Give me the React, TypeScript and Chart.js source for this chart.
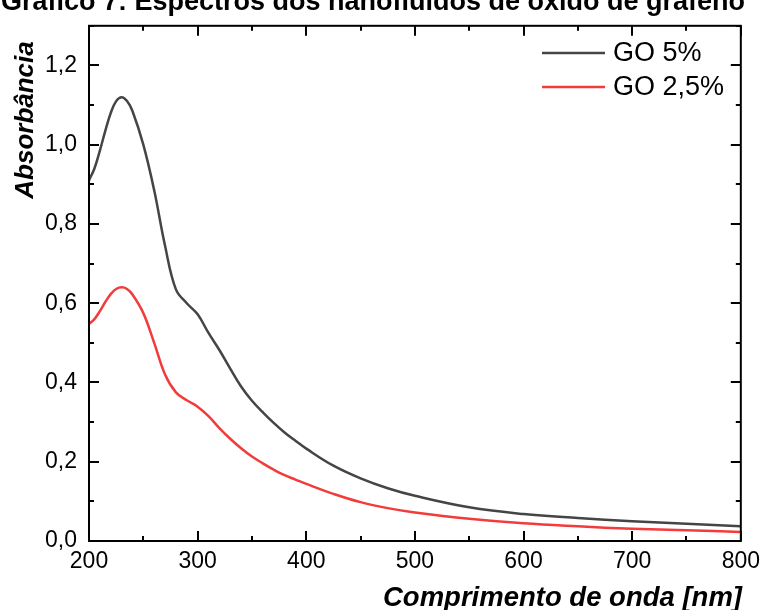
import React, { useEffect, useRef } from "react";
import { Chart, registerables } from "chart.js";

Chart.register(...registerables);

const wavelengths = [200, 205, 210, 215, 220, 225, 230, 235, 240, 250, 260, 270, 280, 290, 300, 310, 320, 330, 340, 350, 360, 370, 380, 390, 400, 425, 450, 475, 500, 550, 600, 650, 700, 750, 800];
const go5 = [0.91, 0.94, 0.985, 1.035, 1.08, 1.11, 1.12, 1.11, 1.085, 1.0, 0.885, 0.745, 0.635, 0.6, 0.572, 0.525, 0.482, 0.435, 0.39, 0.354, 0.325, 0.298, 0.274, 0.253, 0.233, 0.19, 0.158, 0.133, 0.114, 0.085, 0.068, 0.058, 0.05, 0.0435, 0.037];
const go25 = [0.548, 0.56, 0.58, 0.603, 0.623, 0.636, 0.64, 0.636, 0.622, 0.575, 0.5, 0.42, 0.375, 0.355, 0.339, 0.315, 0.285, 0.258, 0.234, 0.213, 0.196, 0.18, 0.166, 0.155, 0.144, 0.119, 0.098, 0.083, 0.072, 0.056, 0.0445, 0.037, 0.031, 0.027, 0.023];
const seriesLabels = ["GO 5%", "GO 2,5%"];
const seriesColors = ["#454545", "#f23c3c"];
const chartTitle = "Gráfico 7: Espectros dos nanofluidos de óxido de grafeno";
const xTitle = "Comprimento de onda [nm]";
const yTitle = "Absorbância";

const FONT = "Arial, 'Liberation Sans', sans-serif";

const framePlugin = {
  id: "frame",
  afterDraw(chart: any) {
    const ctx = chart.ctx;
    const { left, right, top, bottom } = chart.chartArea;
    const xs = chart.scales.x;
    const ys = chart.scales.y;
    ctx.save();
    ctx.strokeStyle = "#000";
    ctx.lineWidth = 2;
    ctx.strokeRect(left, top, right - left, bottom - top);
    ctx.lineWidth = 2;
    ctx.beginPath();
    for (let v = 200; v <= 800; v += 50) {
      const px = Math.round(xs.getPixelForValue(v));
      const len = v % 100 === 0 ? 10 : 5;
      ctx.moveTo(px, bottom);
      ctx.lineTo(px, bottom - len);
      ctx.moveTo(px, top);
      ctx.lineTo(px, top + len);
    }
    for (let i = 0; i <= 13; i++) {
      const v = i / 10;
      const py = Math.round(ys.getPixelForValue(v));
      const len = i % 2 === 0 ? 10 : 5;
      ctx.moveTo(left, py);
      ctx.lineTo(left + len, py);
      ctx.moveTo(right, py);
      ctx.lineTo(right - len, py);
    }
    ctx.stroke();

    // legend
    ctx.font = `27px ${FONT}`;
    ctx.textBaseline = "middle";
    ctx.textAlign = "left";
    const legY = [53, 87];
    chart.data.datasets.forEach((ds: any, i: number) => {
      ctx.strokeStyle = ds.borderColor;
      ctx.lineWidth = 2.5;
      ctx.beginPath();
      ctx.moveTo(542, legY[i]);
      ctx.lineTo(605, legY[i]);
      ctx.stroke();
      ctx.fillStyle = "#000";
      ctx.fillText(ds.label, 613, legY[i] + 1);
    });

    // titles
    ctx.fillStyle = "#000";
    ctx.font = `bold 27px ${FONT}`;
    ctx.textAlign = "center";
    ctx.textBaseline = "alphabetic";
    ctx.fillText(chartTitle, 373, 10);

    ctx.font = `italic bold 27.5px ${FONT}`;
    ctx.textAlign = "right";
    ctx.fillText(xTitle, 742, 606);

    ctx.font = `italic bold 26px ${FONT}`;
    ctx.save();
    ctx.translate(33, 120);
    ctx.rotate(-Math.PI / 2);
    ctx.textAlign = "center";
    ctx.fillText(yTitle, 0, 0);
    ctx.restore();
    ctx.restore();
  },
};

export default function App() {
  const ref = useRef<HTMLCanvasElement | null>(null);
  useEffect(() => {
    document.body.style.margin = "0";
    const canvas = ref.current!;
    const chart = new Chart(canvas, {
      type: "line",
      data: {
        datasets: [
          {
            label: seriesLabels[0],
            data: wavelengths.map((x, i) => ({ x, y: go5[i] })),
            borderColor: seriesColors[0],
            borderWidth: 2.5,
            pointRadius: 0,
            tension: 0.4,
            fill: false,
          },
          {
            label: seriesLabels[1],
            data: wavelengths.map((x, i) => ({ x, y: go25[i] })),
            borderColor: seriesColors[1],
            borderWidth: 2.5,
            pointRadius: 0,
            tension: 0.4,
            fill: false,
          },
        ],
      },
      options: {
        responsive: false,
        animation: false,
        layout: { padding: { left: 0, right: 22, top: 12, bottom: 0 } },
        plugins: { legend: { display: false }, tooltip: { enabled: false }, title: { display: false } },
        scales: {
          x: {
            type: "linear",
            min: 200,
            max: 800,
            grid: { display: false, drawTicks: false },
            border: { display: false },
            ticks: {
              stepSize: 100,
              padding: 7,
              color: "#000",
              font: { size: 23, family: FONT },
              maxRotation: 0,
              callback: (v: any) => String(v),
            },
            afterFit: (s: any) => {
              s.height = 69;
            },
          },
          y: {
            type: "linear",
            min: 0,
            max: 1.3,
            grid: { display: false, drawTicks: false },
            border: { display: false },
            ticks: {
              stepSize: 0.2,
              includeBounds: false,
              padding: 12,
              color: "#000",
              font: { size: 23, family: FONT },
              callback: (v: any) => Number(v).toFixed(1).replace(".", ","),
            },
            afterFit: (s: any) => {
              s.width = 89;
            },
          },
        },
      },
      plugins: [framePlugin],
    });
    return () => chart.destroy();
  }, []);
  return <canvas ref={ref} width={767} height={610} style={{ display: "block", width: 767, height: 610 }} />;
}
